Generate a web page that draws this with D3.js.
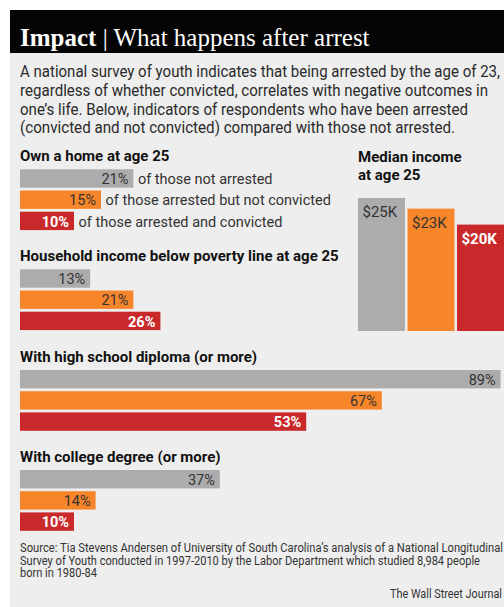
<!DOCTYPE html>
<html>
<head>
<meta charset="utf-8">
<script src="https://cdn.jsdelivr.net/npm/d3@7"></script>
<style>
  html, body { margin: 0; padding: 0; background: #ffffff; }
  svg { display: block; }
</style>
</head>
<body>
<script>
// Survey groups, in the order every bar group is drawn
const groups = ["not arrested", "arrested but not convicted", "arrested and convicted"];
const groupColors = ["#acacac", "#f7862b", "#c9292b"];
const groupNotes = ["of those not arrested", "of those arrested but not convicted", "of those arrested and convicted"];

// Percent of respondents in each group
const ownHome = [21, 15, 10];
const belowPoverty = [13, 21, 26];
const highSchool = [89, 67, 53];
const college = [37, 14, 10];

// Median income at age 25, thousands of dollars
const medianIncome = [25, 23, 20];

const titleBold = "Impact";
const titleRest = " | What happens after arrest";
const introLines = [
  "A national survey of youth indicates that being arrested by the age of 23,",
  "regardless of whether convicted, correlates with negative outcomes in",
  "one\u2019s life. Below, indicators of respondents who have been arrested",
  "(convicted and not convicted) compared with those not arrested."
];
const sourceLines = [
  "Source: Tia Stevens Andersen of University of South Carolina\u2019s analysis of a National Longitudinal",
  "Survey of Youth conducted in 1997-2010 by the Labor Department which studied 8,984 people",
  "born in 1980-84"
];
const credit = "The Wall Street Journal";

const W = 504, H = 607;
const sans = "Roboto, 'Noto Sans', sans-serif";
const ink = "#2a2a2a";

const svg = d3.select("body").append("svg").attr("width", W).attr("height", H);

// panel and header band
svg.append("rect").attr("x", 10).attr("y", 53).attr("width", W - 10).attr("height", H - 53).attr("fill", "#eeeeee");
svg.append("rect").attr("x", 10).attr("y", 10).attr("width", W - 10).attr("height", 43).attr("fill", "#050505");

const title = svg.append("text").attr("x", 20).attr("y", 45.5)
  .attr("fill", "#ffffff").attr("font-family", "'Liberation Serif', serif").attr("font-size", 25);
title.append("tspan").attr("font-weight", "bold").text(titleBold);
title.append("tspan").text(titleRest);

// intro paragraph, each line fitted to its set width
const introWidths = [480, 468, 448, 435];
svg.append("g").selectAll("text").data(introLines).join("text")
  .attr("x", 20).attr("y", (d, i) => 77.3 + i * 18.6)
  .attr("font-family", sans).attr("font-size", 15.6).attr("fill", ink)
  .attr("textLength", (d, i) => introWidths[i]).attr("lengthAdjust", "spacingAndGlyphs")
  .text(d => d);

// one shared percent scale for every horizontal bar
const x = d3.scaleLinear().domain([0, 100]).range([20, 560]);

function heading(lines, xPos, y0) {
  svg.append("g").selectAll("text").data(lines).join("text")
    .attr("x", xPos).attr("y", (d, i) => y0 + i * 18.5)
    .attr("font-family", sans).attr("font-weight", "bold").attr("font-size", 15)
    .attr("fill", "#111").text(d => d);
}

function barGroup(label, values, top, withNotes) {
  heading([label], 20, top - 8);
  const y = d3.scaleBand().domain(groups).range([top, top + 60.8]).paddingInner(0.132);
  const rows = groups.map((g, i) => ({ g, i, v: values[i] }));
  const gEl = svg.append("g");
  gEl.selectAll("rect").data(rows).join("rect")
    .attr("x", x(0)).attr("y", d => y(d.g))
    .attr("width", d => x(d.v) - x(0)).attr("height", y.bandwidth())
    .attr("fill", d => groupColors[d.i]);
  gEl.selectAll("text.val").data(rows).join("text").attr("class", "val")
    .attr("x", d => x(d.v) - 5).attr("y", d => y(d.g) + y.bandwidth() - 3.6)
    .attr("text-anchor", "end").attr("font-family", sans).attr("font-size", 14.5)
    .attr("font-weight", d => d.i === 2 ? "bold" : "normal")
    .attr("fill", d => d.i === 2 ? "#ffffff" : "#333")
    .text(d => d.v + "%");
  if (withNotes) {
    gEl.selectAll("text.note").data(rows).join("text").attr("class", "note")
      .attr("x", d => x(d.v) + 4.5).attr("y", d => y(d.g) + y.bandwidth() - 3.6)
      .attr("font-family", sans).attr("font-size", 14.5).attr("fill", "#333")
      .text(d => groupNotes[d.i]);
  }
}

barGroup("Own a home at age 25", ownHome, 169.3, true);
barGroup("Household income below poverty line at age 25", belowPoverty, 269.3, false);
barGroup("With high school diploma (or more)", highSchool, 370, false);
barGroup("With college degree (or more)", college, 470, false);

// median income columns
heading(["Median income", "at age 25"], 358, 161.7);
const mx = d3.scaleBand().domain(groups).range([358, 504]).paddingInner(0.05);
const my = d3.scaleLinear().domain([0, 25]).range([331, 198]);
const incomeRows = groups.map((g, i) => ({ g, i, v: medianIncome[i] }));
const mg = svg.append("g");
mg.selectAll("rect").data(incomeRows).join("rect")
  .attr("x", d => mx(d.g)).attr("y", d => my(d.v))
  .attr("width", mx.bandwidth()).attr("height", d => my(0) - my(d.v))
  .attr("fill", d => groupColors[d.i]);
mg.selectAll("text").data(incomeRows).join("text")
  .attr("x", d => mx(d.g) + 4.5).attr("y", d => my(d.v) + 19)
  .attr("font-family", sans).attr("font-size", 15)
  .attr("font-weight", d => d.i === 2 ? "bold" : "normal")
  .attr("fill", d => d.i === 2 ? "#ffffff" : "#333")
  .text(d => "$" + d.v + "K");

// source note and credit
const sourceWidths = [483, 460, 77];
svg.append("g").selectAll("text").data(sourceLines).join("text")
  .attr("x", 20).attr("y", (d, i) => 551.7 + i * 12.8)
  .attr("font-family", "'Liberation Sans Narrow', " + sans).attr("font-size", 12.3)
  .attr("fill", "#333")
  .attr("textLength", (d, i) => sourceWidths[i]).attr("lengthAdjust", "spacingAndGlyphs")
  .text(d => d);
svg.append("text").attr("x", 390).attr("y", 598.3)
  .attr("font-family", "'Liberation Sans Narrow', " + sans).attr("font-size", 12.3)
  .attr("fill", "#333").attr("textLength", 112).attr("lengthAdjust", "spacingAndGlyphs")
  .text(credit);
</script>
</body>
</html>
